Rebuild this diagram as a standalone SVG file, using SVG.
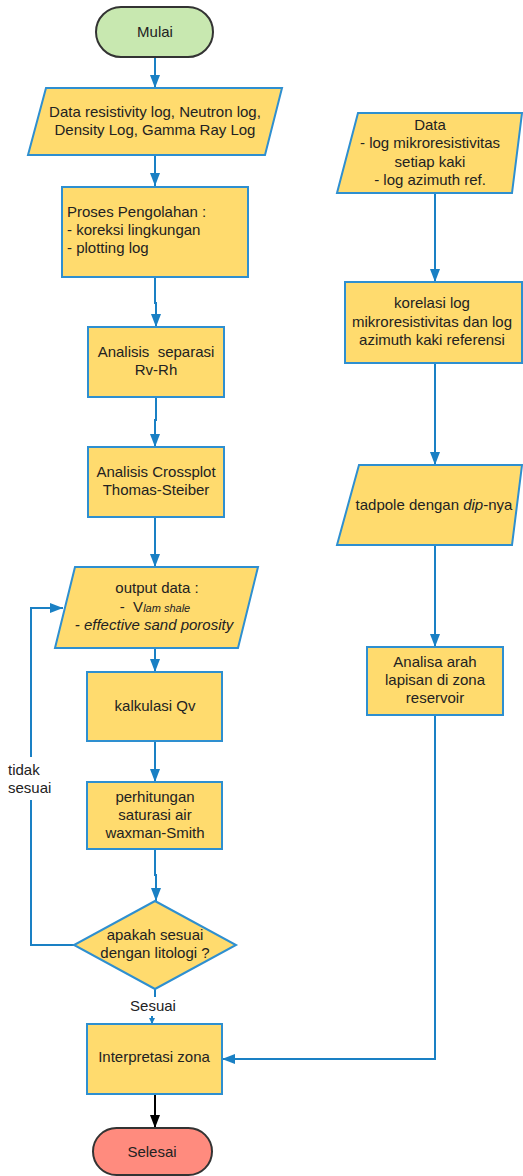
<svg xmlns="http://www.w3.org/2000/svg" width="523" height="1176" viewBox="0 0 523 1176">
<defs>
<marker id="ah" viewBox="0 0 13 10" refX="13" refY="5" markerWidth="13" markerHeight="10" markerUnits="userSpaceOnUse" orient="auto"><path d="M0,0 L13,5 L0,10 Z" fill="#1a80c4"/></marker>
<marker id="ahk" viewBox="0 0 13 10" refX="13" refY="5" markerWidth="13" markerHeight="10" markerUnits="userSpaceOnUse" orient="auto"><path d="M0,0 L13,5 L0,10 Z" fill="#000"/></marker>
<marker id="ahs" viewBox="0 0 10 10" refX="10" refY="5" markerWidth="6" markerHeight="6" markerUnits="userSpaceOnUse" orient="auto"><path d="M0,0 L10,5 L0,10 Z" fill="#1a80c4"/></marker>
</defs>
<style>
.n{fill:#ffdb6e;stroke:#2e8fd0;stroke-width:2}
.t{font-family:"Liberation Sans",Arial,sans-serif;font-size:15px;fill:#222;text-anchor:middle}
.l{text-anchor:start}
.c{fill:none;stroke:#1a80c4;stroke-width:2}
</style>
<rect width="523" height="1176" fill="#fff"/>
<g id="connectors">
<path class="c" d="M155,57 V88" marker-end="url(#ah)"/>
<path class="c" d="M155,155 V186" marker-end="url(#ah)"/>
<path class="c" d="M155,277 V303 H156 V327" marker-end="url(#ah)"/>
<path class="c" d="M156,397 V420 H155 V447" marker-end="url(#ah)"/>
<path class="c" d="M155,517 V567" marker-end="url(#ah)"/>
<path class="c" d="M155,648 V672" marker-end="url(#ah)"/>
<path class="c" d="M155,741 V782" marker-end="url(#ah)"/>
<path class="c" d="M155,849 V875 H156 V901" marker-end="url(#ah)"/>
<path class="c" d="M74,945 H31 V800"/>
<path class="c" d="M31,757 V608 H63" marker-end="url(#ah)"/>
<path class="c" d="M155,989 V997"/>
<path class="c" stroke-width="1.2" d="M152,1016 V1024" marker-end="url(#ahs)"/>
<path class="c" d="M435,193 V282" marker-end="url(#ah)"/>
<path class="c" d="M435,363 V465" marker-end="url(#ah)"/>
<path class="c" d="M435,545 V647" marker-end="url(#ah)"/>
<path class="c" d="M435,715 V1059 H222" marker-end="url(#ah)"/>
<path fill="none" stroke="#000" stroke-width="2" d="M155,1094 V1128" marker-end="url(#ahk)"/>
<text class="t l" x="8" y="775">tidak</text>
<text class="t l" x="8" y="793">sesuai</text>
<text class="t" x="153" y="1011">Sesuai</text>
</g>
<g id="mulai">
<rect x="96" y="7" width="117" height="50" rx="25" fill="#c8e8b0" stroke="#333" stroke-width="2"/>
<text class="t" x="155" y="37">Mulai</text>
</g>
<g id="data-log">
<polygon class="n" points="46,88 282,88 265,155 28,155"/>
<text class="t" x="155" y="117">Data resistivity log, Neutron log,</text>
<text class="t" x="155" y="135">Density Log, Gamma Ray Log</text>
</g>
<g id="proses">
<rect class="n" x="62" y="187" width="186" height="90"/>
<text class="t l" x="67" y="217">Proses Pengolahan :</text>
<text class="t l" x="67" y="235">- koreksi lingkungan</text>
<text class="t l" x="67" y="253">- plotting log</text>
</g>
<g id="separasi">
<rect class="n" x="88" y="327" width="136" height="70"/>
<text class="t" x="156" y="357" xml:space="preserve">Analisis  separasi</text>
<text class="t" x="156" y="375">Rv-Rh</text>
</g>
<g id="crossplot">
<rect class="n" x="88" y="447" width="136" height="70"/>
<text class="t" x="156" y="477">Analisis Crossplot</text>
<text class="t" x="156" y="495">Thomas-Steiber</text>
</g>
<g id="output">
<polygon class="n" points="75,567 258,567 238,648 55,648"/>
<text class="t" x="157" y="593">output data :</text>
<text class="t" x="155" y="612" xml:space="preserve">-  V<tspan font-size="11" font-style="italic">lam shale</tspan></text>
<text class="t" x="154" y="630" font-style="italic">- effective sand porosity</text>
</g>
<g id="qv">
<rect class="n" x="87" y="672" width="135" height="69"/>
<text class="t" x="155" y="711">kalkulasi Qv</text>
</g>
<g id="saturasi">
<rect class="n" x="87" y="782" width="135" height="67"/>
<text class="t" x="155" y="802">perhitungan</text>
<text class="t" x="155" y="820">saturasi air</text>
<text class="t" x="155" y="838">waxman-Smith</text>
</g>
<g id="sesuai">
<polygon class="n" points="155,901 236,945 155,989 74,945"/>
<text class="t" x="155" y="940">apakah sesuai</text>
<text class="t" x="155" y="958">dengan litologi ?</text>
</g>
<g id="interpretasi">
<rect class="n" x="87" y="1024" width="135" height="70"/>
<text class="t" x="154" y="1062">Interpretasi zona</text>
</g>
<g id="selesai">
<rect x="93" y="1128" width="119" height="47" rx="23.5" fill="#ff8b7e" stroke="#333" stroke-width="2"/>
<text class="t" x="152" y="1157">Selesai</text>
</g>
<g id="data-mikro">
<polygon class="n" points="358,113 522,113 512,193 337,193"/>
<text class="t" x="430" y="130">Data</text>
<text class="t" x="430" y="148">- log mikroresistivitas</text>
<text class="t" x="430" y="167">setiap kaki</text>
<text class="t" x="430" y="185">- log azimuth ref.</text>
</g>
<g id="korelasi">
<rect class="n" x="345" y="282" width="177" height="81"/>
<text class="t" x="432" y="308">korelasi log</text>
<text class="t" x="432" y="327">mikroresistivitas dan log</text>
<text class="t" x="432" y="345">azimuth kaki referensi</text>
</g>
<g id="tadpole">
<polygon class="n" points="359,465 522,465 512,545 337,545"/>
<text class="t" x="434" y="510">tadpole dengan <tspan font-style="italic">dip</tspan>-nya</text>
</g>
<g id="analisa">
<rect class="n" x="367" y="647" width="136" height="68"/>
<text class="t" x="435" y="667">Analisa arah</text>
<text class="t" x="435" y="685">lapisan di zona</text>
<text class="t" x="435" y="703">reservoir</text>
</g>
</svg>
